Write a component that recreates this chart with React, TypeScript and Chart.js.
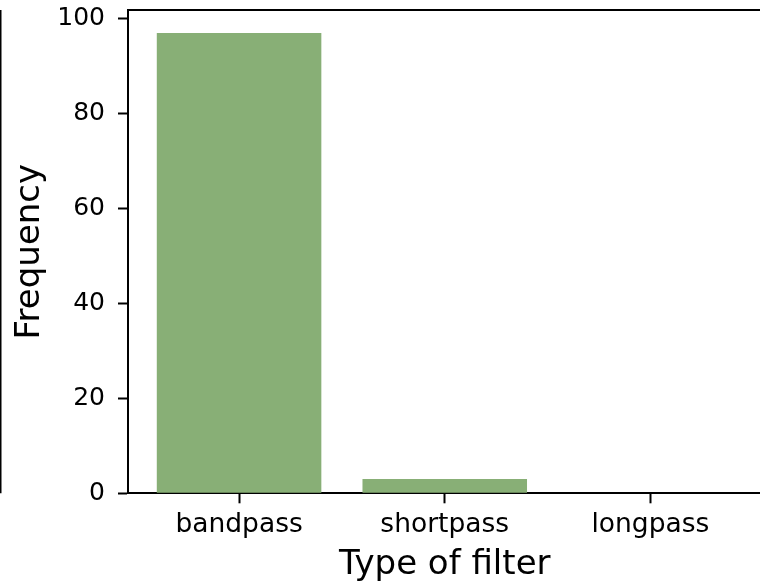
import React, { useEffect, useRef } from 'react';
import { Chart, registerables } from 'chart.js';

Chart.register(...registerables);

// Filter counts per type
const categories = ['bandpass', 'shortpass', 'longpass'];
const frequencies = [97, 3, 0];
const yTickValues = [0, 20, 40, 60, 80, 100];
const xLimits = [-0.54, 2.54];
const yLimits = [0, 101.85];

const BAR_COLOR = '#88af76';
const FONT = 'DejaVu Sans';
const CANVAS_W = 770;
const CANVAS_H = 583;
const PLOT_LEFT = 128;
const PLOT_TOP = 10;
const PLOT_BOTTOM = 493.3;

// Top spine plus the edge of the neighbouring panel on the far left
const spinesPlugin = {
  id: 'spines',
  afterDraw(chart: any) {
    const { ctx, chartArea } = chart;
    ctx.save();
    ctx.strokeStyle = '#000';
    ctx.lineWidth = 2;
    ctx.beginPath();
    ctx.moveTo(chartArea.left - 1, chartArea.top);
    ctx.lineTo(chart.width, chartArea.top);
    ctx.stroke();
    ctx.lineWidth = 1.5;
    ctx.beginPath();
    ctx.moveTo(0.75, chartArea.top);
    ctx.lineTo(0.75, chartArea.bottom);
    ctx.stroke();
    ctx.restore();
  },
};

export default function App() {
  const canvasRef = useRef<HTMLCanvasElement | null>(null);

  useEffect(() => {
    if (!canvasRef.current) return;
    const chart = new Chart(canvasRef.current, {
      type: 'bar',
      data: {
        datasets: [
          {
            data: categories.map((_, i) => ({ x: i, y: frequencies[i] })),
            backgroundColor: BAR_COLOR,
            borderWidth: 0,
            categoryPercentage: 0.8,
            barPercentage: 1,
          },
        ],
      },
      options: {
        animation: false,
        responsive: false,
        devicePixelRatio: 1,
        layout: { padding: { top: PLOT_TOP, right: 8.5, left: 0, bottom: 0 } },
        plugins: { legend: { display: false }, tooltip: { enabled: false } },
        scales: {
          x: {
            type: 'linear',
            offset: false,
            min: xLimits[0],
            max: xLimits[1],
            afterBuildTicks: (scale: any) => {
              scale.ticks = categories.map((_, i) => ({ value: i }));
            },
            afterFit: (scale: any) => {
              scale.height = CANVAS_H - PLOT_BOTTOM;
              scale.paddingLeft = 0;
              scale.paddingRight = 0;
            },
            ticks: {
              color: '#000',
              font: { family: FONT, size: 26.5 },
              padding: 6,
              maxRotation: 0,
              autoSkip: false,
              callback: (v: any) => categories[v as number] ?? '',
            },
            grid: {
              offset: false,
              drawOnChartArea: false,
              drawTicks: true,
              tickLength: 10,
              tickColor: '#000',
              tickWidth: 2,
            },
            border: { display: true, color: '#000', width: 2 },
            title: {
              display: true,
              text: 'Type of filter',
              color: '#000',
              font: { family: FONT, size: 34 },
              padding: { top: 0, bottom: -3 },
            },
          },
          y: {
            type: 'linear',
            min: yLimits[0],
            max: yLimits[1],
            afterBuildTicks: (scale: any) => {
              scale.ticks = yTickValues.map((v) => ({ value: v }));
            },
            afterFit: (scale: any) => {
              scale.width = PLOT_LEFT;
              scale.paddingTop = 0;
              scale.paddingBottom = 0;
            },
            ticks: {
              color: '#000',
              font: { family: FONT, size: 25 },
              padding: 13,
            },
            grid: {
              drawOnChartArea: false,
              drawTicks: true,
              tickLength: 10,
              tickColor: '#000',
              tickWidth: 2,
            },
            border: { display: true, color: '#000', width: 2 },
            title: {
              display: true,
              text: 'Frequency',
              color: '#000',
              font: { family: FONT, size: 34 },
              padding: { top: 10, bottom: 0 },
            },
          },
        },
      },
      plugins: [spinesPlugin],
    });
    return () => chart.destroy();
  }, []);

  return (
    <div
      style={{
        position: 'fixed',
        left: 0,
        top: 0,
        width: 760,
        height: CANVAS_H,
        overflow: 'hidden',
        background: '#fff',
      }}
    >
      <canvas ref={canvasRef} width={CANVAS_W} height={CANVAS_H} style={{ display: 'block' }} />
    </div>
  );
}
